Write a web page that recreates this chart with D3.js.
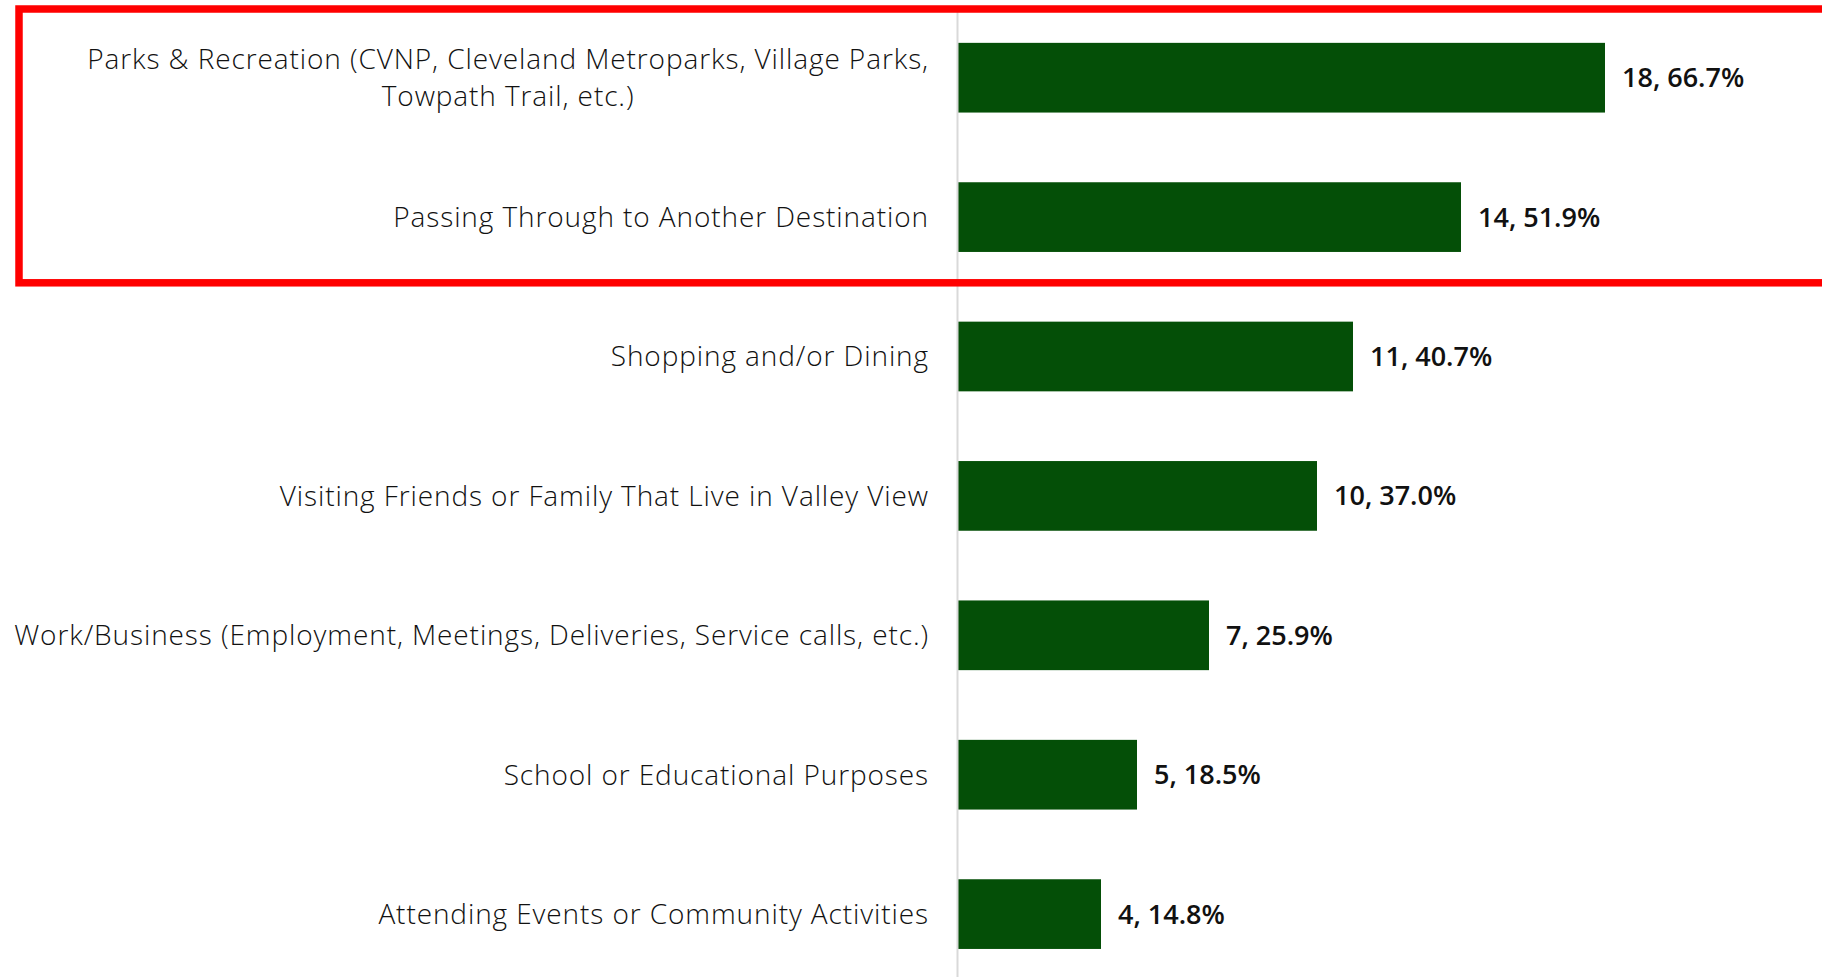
<!DOCTYPE html>
<html>
  <head>
    <title>Reasons for Visiting</title>
    <script src="https://d3js.org/d3.v7.min.js"></script>
    <style>
      body { margin: 0; background: #ffffff; }
      .cat-label {
        font-family: "Open Sans", "Noto Sans", sans-serif;
        font-weight: 300;
        font-size: 28px;
        letter-spacing: 0.9px;
        fill: #111111;
      }
      .val-label {
        font-family: "Open Sans", "Noto Sans", sans-serif;
        font-weight: 600;
        font-size: 27px;
        fill: #111111;
      }
      .axis--y .domain { stroke: #d9d9d9; stroke-width: 2px; }
    </style>
  </head>
  <body>
    <svg width="1822" height="977"></svg>
    <script>
      const categories = [
        ["Parks & Recreation (CVNP, Cleveland Metroparks, Village Parks,", "Towpath Trail, etc.)"],
        ["Passing Through to Another Destination"],
        ["Shopping and/or Dining"],
        ["Visiting Friends or Family That Live in Valley View"],
        ["Work/Business (Employment, Meetings, Deliveries, Service calls, etc.)"],
        ["School or Educational Purposes"],
        ["Attending Events or Community Activities"]
      ];
      const counts = [18, 14, 11, 10, 7, 5, 4];
      const percents = ["66.7%", "51.9%", "40.7%", "37.0%", "25.9%", "18.5%", "14.8%"];
      const highlighted = [0, 1];

      const svg = d3.select("svg");
      const axisX = 957;
      const labelRight = 929;

      const data = categories.map((lines, i) => ({
        key: i, lines, count: counts[i], pct: percents[i]
      }));

      const yScale = d3.scaleBand()
        .domain(data.map(d => d.key))
        .range([8, 983.8])
        .paddingInner(0.5)
        .paddingOuter(0.25);

      const xScale = d3.scaleLinear()
        .domain([0, 24])
        .range([axisX, axisX + 864]);

      const step = yScale.step();

      // bars
      svg.selectAll(".bar").data(data)
        .enter().append("rect")
          .attr("class", "bar")
          .attr("x", xScale(0))
          .attr("y", d => yScale(d.key))
          .attr("width", d => xScale(d.count) - xScale(0))
          .attr("height", yScale.bandwidth())
          .attr("fill", "#044f07");

      // axis line
      svg.append("g")
        .attr("class", "axis axis--y")
        .attr("transform", `translate(${axisX},0)`)
        .call(d3.axisLeft(yScale).tickSize(0).tickSizeOuter(0).tickFormat(""))
        .selectAll(".tick").remove();

      // category labels
      const lineGap = 37;
      const catG = svg.selectAll(".cat").data(data)
        .enter().append("g")
          .attr("class", "cat")
          .attr("transform", d => `translate(0, ${yScale(d.key) + yScale.bandwidth() / 2})`);

      catG.each(function(d) {
        const g = d3.select(this);
        const n = d.lines.length;
        const first = g.append("text")
          .attr("class", "cat-label")
          .attr("x", labelRight)
          .attr("y", -(n - 1) * lineGap / 2)
          .attr("dy", "0.35em")
          .attr("text-anchor", "end")
          .text(d.lines[0]);
        const w = first.node().getComputedTextLength();
        d.lines.slice(1).forEach((line, j) => {
          g.append("text")
            .attr("class", "cat-label")
            .attr("x", labelRight - w / 2)
            .attr("y", -(n - 1) * lineGap / 2 + (j + 1) * lineGap)
            .attr("dy", "0.35em")
            .attr("text-anchor", "middle")
            .text(line);
        });
      });

      // value labels
      svg.selectAll(".val-label").data(data)
        .enter().append("text")
          .attr("class", "val-label")
          .attr("x", d => xScale(d.count) + 17)
          .attr("y", d => yScale(d.key) + yScale.bandwidth() / 2)
          .attr("dy", "0.35em")
          .text(d => `${d.count}, ${d.pct}`);

      // highlight box round the top two rows
      const boxTop = yScale(highlighted[0]) - step * 0.25 + 1;
      const boxBottom = yScale(highlighted[highlighted.length - 1]) + yScale.bandwidth() + step * 0.25 - 4;
      svg.append("rect")
        .attr("x", 19)
        .attr("y", boxTop)
        .attr("width", 1822)
        .attr("height", boxBottom - boxTop)
        .attr("fill", "none")
        .attr("stroke", "#ff0000")
        .attr("stroke-width", 7.5);
    </script>
  </body>
</html>
